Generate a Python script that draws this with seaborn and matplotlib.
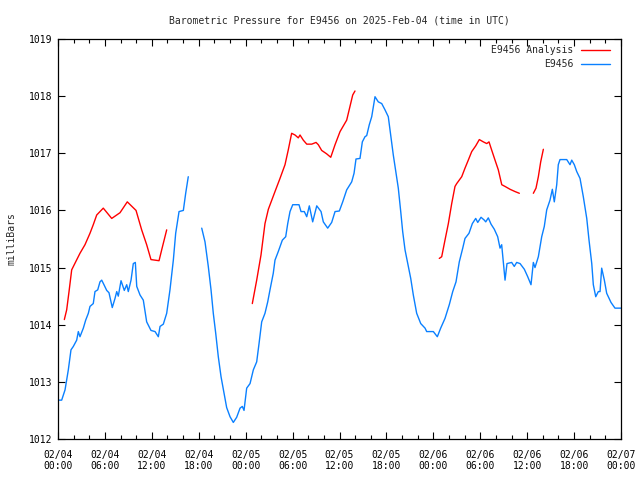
import numpy as np
import pandas as pd
import matplotlib
matplotlib.use("Agg")
import matplotlib.pyplot as plt
import matplotlib.dates as mdates
import seaborn as sns

title = "Barometric Pressure for E9456 on 2025-Feb-04 (time in UTC)"
ylabel = "milliBars"
start = "2025-02-04 00:00"
end = "2025-02-07 00:00"
series_names = ["E9456 Analysis", "E9456"]

# --- E9456 (station observations), hours after 2025-02-04 00:00 UTC ---
obs1_hours = [0.13, 0.47, 0.90, 1.32, 1.66, 1.96, 2.39, 2.60, 2.81, 3.24, 3.54, 3.88, 4.09, 4.51,
              4.73, 5.08, 5.37, 5.59, 5.88, 6.23, 6.52, 6.94, 7.29, 7.51, 7.71, 8.06, 8.48, 8.79,
              8.99, 9.34, 9.63, 9.89, 10.07, 10.49, 10.91, 11.34, 11.89, 12.41, 12.83, 13.05,
              13.47, 13.90, 14.32, 14.75, 15.05, 15.48, 16.03, 16.33, 16.66]
obs1_mb = [1012.68, 1012.68, 1012.86, 1013.21, 1013.56, 1013.62, 1013.73, 1013.88, 1013.79, 1013.94,
           1014.08, 1014.20, 1014.32, 1014.37, 1014.58, 1014.61, 1014.75, 1014.78, 1014.70, 1014.60,
           1014.56, 1014.30, 1014.46, 1014.58, 1014.50, 1014.77, 1014.60, 1014.70, 1014.58, 1014.78,
           1015.07, 1015.09, 1014.67, 1014.52, 1014.43, 1014.05, 1013.90, 1013.88, 1013.79, 1013.97,
           1014.01, 1014.20, 1014.61, 1015.13, 1015.60, 1015.98, 1016.00, 1016.30, 1016.59]

obs2_hours = [18.38, 18.80, 19.22, 19.57, 19.86, 20.17, 20.50, 20.85, 21.23, 21.57, 22.00, 22.42,
              22.85, 23.28, 23.57, 23.79, 24.13, 24.56, 24.98, 25.41, 25.71, 26.05, 26.47, 26.82,
              27.11, 27.53, 27.75, 28.17, 28.69, 29.12, 29.38, 29.67, 30.02, 30.82, 31.08, 31.50,
              31.81, 32.14, 32.57, 33.09, 33.64, 33.93, 34.49, 35.00, 35.43, 35.98, 36.41, 36.92,
              37.56, 37.86, 38.11, 38.62, 38.92, 39.26, 39.48, 39.81, 40.12, 40.54, 40.96, 41.40,
              41.82, 42.24, 42.55, 42.88, 43.23, 43.52, 43.83, 44.08, 44.38, 44.80, 45.11, 45.44,
              45.87, 46.39, 46.94, 47.15, 48.00, 48.51, 48.94, 49.49, 50.04, 50.48, 50.90, 51.32,
              51.76, 52.05, 52.56, 52.99, 53.42, 53.68, 54.10, 54.52, 54.70, 55.03, 55.38, 55.80,
              56.23, 56.53, 56.74, 56.95, 57.17, 57.42, 58.02, 58.35, 58.66, 59.09, 59.64, 60.07,
              60.49, 60.79, 61.00, 61.43, 61.86, 62.19, 62.50, 62.92, 63.22, 63.47, 63.78, 63.98,
              64.20, 65.06, 65.48, 65.70, 66.03, 66.34, 66.76, 67.18, 67.62, 67.91, 68.26, 68.46,
              68.77, 69.10, 69.32, 69.53, 69.87, 70.17, 70.72, 71.23, 72.00]
obs2_mb = [1015.69, 1015.45, 1015.02, 1014.61, 1014.20, 1013.85, 1013.44, 1013.09, 1012.80, 1012.55,
           1012.39, 1012.29, 1012.38, 1012.54, 1012.57, 1012.50, 1012.89, 1012.97, 1013.21, 1013.35,
           1013.67, 1014.05, 1014.20, 1014.40, 1014.61, 1014.90, 1015.13, 1015.28, 1015.48, 1015.54,
           1015.77, 1015.98, 1016.10, 1016.10, 1015.98, 1015.98, 1015.89, 1016.08, 1015.80, 1016.08,
           1015.98, 1015.80, 1015.69, 1015.79, 1015.98, 1015.99, 1016.15, 1016.36, 1016.50, 1016.65,
           1016.90, 1016.91, 1017.20, 1017.29, 1017.31, 1017.50, 1017.64, 1017.99, 1017.90, 1017.87,
           1017.76, 1017.64, 1017.32, 1016.97, 1016.65, 1016.39, 1015.98, 1015.63, 1015.31, 1015.02,
           1014.81, 1014.52, 1014.20, 1014.02, 1013.94, 1013.88, 1013.88, 1013.79, 1013.94, 1014.11,
           1014.35, 1014.58, 1014.75, 1015.10, 1015.34, 1015.51, 1015.60, 1015.77, 1015.86, 1015.79,
           1015.88, 1015.83, 1015.80, 1015.87, 1015.76, 1015.67, 1015.54, 1015.34, 1015.40, 1015.10,
           1014.78, 1015.07, 1015.09, 1015.02, 1015.09, 1015.07, 1014.97, 1014.84, 1014.70, 1015.09,
           1015.00, 1015.19, 1015.54, 1015.72, 1016.01, 1016.18, 1016.37, 1016.15, 1016.45, 1016.80,
           1016.89, 1016.89, 1016.80, 1016.88, 1016.80, 1016.68, 1016.56, 1016.24, 1015.86, 1015.48,
           1015.07, 1014.70, 1014.49, 1014.58, 1014.58, 1014.99, 1014.78, 1014.55, 1014.39, 1014.29,
           1014.29]

# --- E9456 Analysis ---
ana1_hours = [0.81, 1.11, 1.41, 1.75, 2.26, 2.81, 3.45, 4.09, 4.51, 4.95, 5.79, 6.87, 7.93, 8.86,
              9.98, 10.70, 11.34, 11.89, 12.92, 13.26, 13.90]
ana1_mb = [1014.09, 1014.26, 1014.58, 1014.96, 1015.10, 1015.25, 1015.40, 1015.60, 1015.75, 1015.92,
           1016.04, 1015.86, 1015.96, 1016.15, 1016.00, 1015.66, 1015.40, 1015.14, 1015.12, 1015.31,
           1015.66]
ana2_hours = [24.85, 25.41, 25.96, 26.47, 26.90, 27.75, 28.39, 29.03, 29.45, 29.88, 30.31, 30.73,
              30.95, 31.37, 31.81, 32.45, 33.00, 33.29, 33.72, 34.36, 34.88, 35.43, 36.07, 36.92,
              37.34, 37.69, 37.98]
ana2_mb = [1014.37, 1014.78, 1015.22, 1015.77, 1016.02, 1016.33, 1016.56, 1016.80, 1017.06, 1017.35,
           1017.32, 1017.27, 1017.32, 1017.23, 1017.16, 1017.16, 1017.19, 1017.15, 1017.05, 1016.99,
           1016.93, 1017.15, 1017.38, 1017.58, 1017.82, 1018.02, 1018.09]
ana3_hours = [48.76, 49.07, 49.49, 49.92, 50.35, 50.77, 50.99, 51.63, 52.05, 52.47, 52.91, 53.42,
              53.88, 54.39, 54.83, 55.12, 55.38, 55.89, 56.31, 56.75, 57.17, 57.81, 58.45, 59.00]
ana3_mb = [1015.16, 1015.19, 1015.48, 1015.77, 1016.12, 1016.42, 1016.47, 1016.59, 1016.74, 1016.88,
           1017.03, 1017.13, 1017.24, 1017.20, 1017.17, 1017.20, 1017.09, 1016.88, 1016.71, 1016.45,
           1016.42, 1016.37, 1016.33, 1016.30]
ana4_hours = [60.79, 61.13, 61.43, 61.73, 62.07]
ana4_mb = [1016.30, 1016.39, 1016.59, 1016.85, 1017.07]

ytick_vals = [1012, 1013, 1014, 1015, 1016, 1017, 1018, 1019]

base = pd.Timestamp(start)


def frame(segments, name):
    parts = []
    for i, (h, v) in enumerate(segments):
        parts.append(pd.DataFrame({
            "time": base + pd.to_timedelta(np.array(h), unit="h"),
            "mb": v, "seg": f"{name}{i}", "series": name}))
    return pd.concat(parts, ignore_index=True)


ana = frame([(ana1_hours, ana1_mb), (ana2_hours, ana2_mb), (ana3_hours, ana3_mb),
             (ana4_hours, ana4_mb)], series_names[0])
obs = frame([(obs1_hours, obs1_mb), (obs2_hours, obs2_mb)], series_names[1])
df = pd.concat([ana, obs], ignore_index=True)

sns.set_style("ticks")
plt.rcParams["font.family"] = ["DejaVu Sans Mono"]
plt.rcParams["axes.linewidth"] = 0.9

fig = plt.figure(figsize=(6.4, 4.8), dpi=100)
ax = fig.add_axes([58 / 640, 1 - 439 / 480, 563 / 640, 400 / 480])

palette = {series_names[0]: "#ff0000", series_names[1]: "#0a80ff"}
sns.lineplot(data=df, x="time", y="mb", hue="series", hue_order=series_names,
             units="seg", estimator=None, sort=False, palette=palette, lw=1.0, ax=ax)

ax.set_xlim(pd.Timestamp(start), pd.Timestamp(end))
ax.set_ylim(ytick_vals[0], ytick_vals[-1])
ax.set_yticks(ytick_vals)
ax.xaxis.set_major_locator(mdates.HourLocator(byhour=[0, 6, 12, 18]))
ax.xaxis.set_minor_locator(mdates.HourLocator(interval=2))
ax.xaxis.set_major_formatter(mdates.DateFormatter("%m/%d\n%H:%M"))
ax.tick_params(which="both", direction="in", top=True, right=True, colors="black",
               labelsize=7, pad=4)
ax.tick_params(axis="x", which="major", pad=8)
ax.tick_params(which="major", length=5, width=0.8)
ax.tick_params(which="minor", length=3, width=0.8)
for lab in ax.get_xticklabels():
    lab.set_linespacing(1.1)
ax.set_xlabel("")
ax.set_ylabel(ylabel, fontsize=7, labelpad=9)
ax.set_title(title, fontsize=7, pad=11)
for s in ax.spines.values():
    s.set_color("black")

handles, labels = ax.get_legend_handles_labels()
leg = ax.legend(handles, labels, loc="upper right",
                bbox_to_anchor=((610 - 58) / 563, (439 - 45) / 400),
                frameon=False, markerfirst=False, fontsize=7, borderpad=0, borderaxespad=0,
                handlelength=3.0, handletextpad=0.8, labelspacing=0.45)
for t in leg.get_texts():
    t.set_ha("right")

fig.savefig("out.png", dpi=100)
